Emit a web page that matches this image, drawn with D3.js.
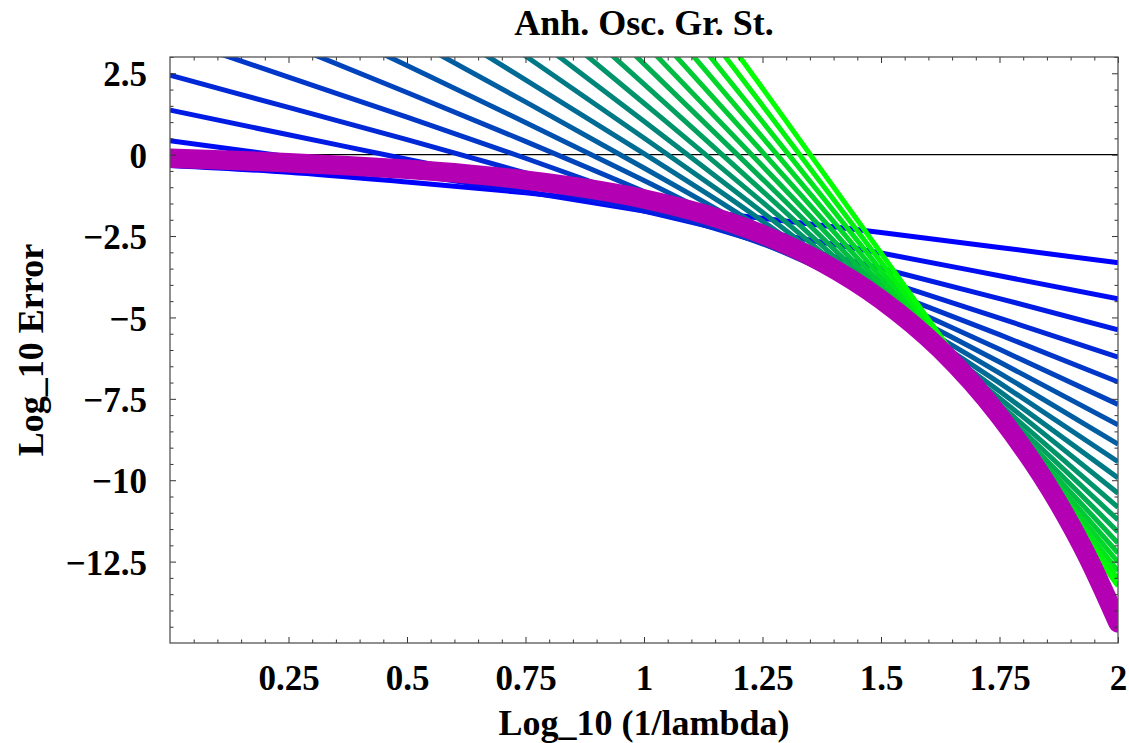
<!DOCTYPE html>
<html>
<head>
<meta charset="utf-8">
<script src="https://cdn.jsdelivr.net/npm/d3@7"></script>
<style>
  body { margin: 0; background: #fff; }
  svg { display: block; }
  text { font-family: "Liberation Serif", "Times New Roman", serif; font-weight: bold; }
</style>
</head>
<body>
<svg id="chart" width="1129" height="743"></svg>
<script>
// x = log10(1/lambda); sample grid shared by all truncation-order curves
const xGrid = [0, 0.25, 0.5, 0.75, 1, 1.25, 1.5, 1.75, 2];

// log10 relative error of the perturbation series truncated at order N = 1..20
const orderErrors = [
  [-0.33, -0.54, -0.84, -1.17, -1.55, -1.95, -2.39, -2.85, -3.32],
  [0.43, -0.06, -0.58, -1.14, -1.73, -2.36, -3.02, -3.72, -4.43],
  [1.37, 0.61, -0.14, -0.91, -1.73, -2.59, -3.49, -4.42, -5.38],
  [2.44, 1.45, 0.46, -0.56, -1.61, -2.71, -3.84, -5.02, -6.22],
  [3.62, 2.38, 1.15, -0.11, -1.41, -2.74, -4.12, -5.53, -6.98],
  [4.85, 3.39, 1.91, 0.41, -1.13, -2.71, -4.32, -5.98, -7.67],
  [6.18, 4.47, 2.74, 0.99, -0.79, -2.61, -4.47, -6.37, -8.30],
  [7.55, 5.60, 3.62, 1.62, -0.41, -2.47, -4.57, -6.71, -8.89],
  [8.98, 6.77, 4.55, 2.30, 0.03, -2.28, -4.62, -7.01, -9.43],
  [10.45, 8.00, 5.52, 3.03, 0.51, -2.04, -4.63, -7.27, -9.93],
  [11.96, 9.26, 6.54, 3.79, 1.03, -1.77, -4.61, -7.48, -10.40],
  [13.51, 10.56, 7.58, 4.60, 1.58, -1.46, -4.55, -7.67, -10.83],
  [15.09, 11.89, 8.67, 5.43, 2.17, -1.12, -4.45, -7.82, -11.22],
  [16.71, 13.25, 9.78, 6.30, 2.79, -0.75, -4.32, -7.94, -11.59],
  [18.35, 14.65, 10.93, 7.19, 3.44, -0.35, -4.17, -8.03, -11.93],
  [20.02, 16.07, 12.10, 8.12, 4.11, 0.08, -3.99, -8.09, -12.24],
  [21.72, 17.52, 13.30, 9.07, 4.81, 0.53, -3.78, -8.13, -12.52],
  [23.44, 18.99, 14.53, 10.04, 5.54, 1.01, -3.55, -8.15, -12.79],
  [25.19, 20.49, 15.77, 11.04, 6.29, 1.51, -3.30, -8.14, -13.03],
  [26.96, 22.01, 17.04, 12.06, 7.06, 2.04, -3.02, -8.11, -13.25]
];

// optimal-truncation error estimate (thick curve)
const optimalX = [0, 0.125, 0.25, 0.375, 0.5, 0.625, 0.75, 0.875, 1, 1.125, 1.25, 1.375, 1.5, 1.625, 1.75, 1.875, 1.9375, 2];
const optimalErr = [-0.11, -0.17, -0.25, -0.34, -0.45, -0.59, -0.78, -1.03, -1.36, -1.82, -2.45, -3.30, -4.45, -5.98, -8.03, -10.72, -12.40, -14.38];

const xTickValues = [0.25, 0.5, 0.75, 1, 1.25, 1.5, 1.75, 2];
const xTickLabels = ["0.25", "0.5", "0.75", "1", "1.25", "1.5", "1.75", "2"];
const yTickValues = [2.5, 0, -2.5, -5, -7.5, -10, -12.5];
const yTickLabels = ["2.5", "0", "\u22122.5", "\u22125", "\u22127.5", "\u221210", "\u221212.5"];

const plot = { left: 170, right: 1118, top: 57, bottom: 643 };
const svg = d3.select("#chart");

const x = d3.scaleLinear().domain([0, 2]).range([plot.left, plot.right]);
const y = d3.scaleLinear().domain([-15, 3]).range([plot.bottom, plot.top]);

svg.append("defs").append("clipPath").attr("id", "plot-clip")
  .append("rect")
  .attr("x", plot.left).attr("y", plot.top)
  .attr("width", plot.right - plot.left).attr("height", plot.bottom - plot.top);

const body = svg.append("g").attr("clip-path", "url(#plot-clip)");

// horizontal axis line at zero
body.append("line")
  .attr("x1", plot.left).attr("x2", plot.right)
  .attr("y1", y(0)).attr("y2", y(0))
  .attr("stroke", "#000").attr("stroke-width", 1.2);

const line = d3.line()
  .x(d => x(d[0]))
  .y(d => y(d[1]))
  .curve(d3.curveMonotoneX);

const orderColor = d3.interpolateRgb("#0000ff", "#00ff00");

orderErrors.forEach((vals, i) => {
  body.append("path")
    .datum(xGrid.map((xv, j) => [xv, vals[j]]))
    .attr("d", line)
    .attr("fill", "none")
    .attr("stroke", orderColor(i / (orderErrors.length - 1)))
    .attr("stroke-width", 5);
});

body.append("path")
  .datum(optimalX.map((xv, j) => [xv, optimalErr[j]]))
  .attr("d", line)
  .attr("fill", "none")
  .attr("stroke", "#b200b2")
  .attr("stroke-width", 19.5)
  .attr("stroke-linecap", "round")
  .attr("stroke-linejoin", "round");

// frame ticks (pointing inward)
const xMinor = d3.range(0, 2.0001, 0.05).map(v => +v.toFixed(2)).filter(v => Math.abs(v * 4 - Math.round(v * 4)) > 1e-6);
const yMinor = d3.range(-15, 3.0001, 0.5).filter(v => Math.abs(v / 2.5 - Math.round(v / 2.5)) > 1e-6);
const majorLen = 6, minorLen = 3.5;

function styleAxis(g) {
  g.select(".domain").remove();
  g.attr("color", "#333")
   .attr("font-family", "Liberation Serif, Times New Roman, serif")
   .attr("font-weight", "bold")
   .attr("font-size", 35);
  g.selectAll("text").attr("fill", "#000");
}

svg.append("g").attr("transform", `translate(0,${plot.bottom})`)
  .call(d3.axisBottom(x).tickValues(xTickValues).tickFormat((d, i) => xTickLabels[i]).tickSize(-majorLen).tickPadding(22))
  .call(styleAxis);
svg.append("g").attr("transform", `translate(0,${plot.bottom})`)
  .call(d3.axisBottom(x).tickValues(xMinor).tickFormat("").tickSize(-minorLen))
  .call(styleAxis);
svg.append("g").attr("transform", `translate(0,${plot.top})`)
  .call(d3.axisTop(x).tickValues(xTickValues).tickFormat("").tickSize(-majorLen))
  .call(styleAxis);
svg.append("g").attr("transform", `translate(0,${plot.top})`)
  .call(d3.axisTop(x).tickValues(xMinor).tickFormat("").tickSize(-minorLen))
  .call(styleAxis);

svg.append("g").attr("transform", `translate(${plot.left},0)`)
  .call(d3.axisLeft(y).tickValues(yTickValues).tickFormat((d, i) => yTickLabels[i]).tickSize(-majorLen).tickPadding(23))
  .call(styleAxis)
  .call(g => g.selectAll("text").attr("dy", "0.36em"));
svg.append("g").attr("transform", `translate(${plot.left},0)`)
  .call(d3.axisLeft(y).tickValues(yMinor).tickFormat("").tickSize(-minorLen))
  .call(styleAxis);
svg.append("g").attr("transform", `translate(${plot.right},0)`)
  .call(d3.axisRight(y).tickValues(yTickValues).tickFormat("").tickSize(-majorLen))
  .call(styleAxis);
svg.append("g").attr("transform", `translate(${plot.right},0)`)
  .call(d3.axisRight(y).tickValues(yMinor).tickFormat("").tickSize(-minorLen))
  .call(styleAxis);

// frame
svg.append("rect")
  .attr("x", plot.left).attr("y", plot.top)
  .attr("width", plot.right - plot.left).attr("height", plot.bottom - plot.top)
  .attr("fill", "none").attr("stroke", "#555").attr("stroke-width", 1.3);

// titles
svg.append("text")
  .attr("x", (plot.left + plot.right) / 2).attr("y", 35)
  .attr("text-anchor", "middle").attr("font-size", 36)
  .text("Anh. Osc. Gr. St.");

svg.append("text")
  .attr("x", (plot.left + plot.right) / 2).attr("y", 735)
  .attr("text-anchor", "middle").attr("font-size", 36)
  .text("Log_10 (1/lambda)");

svg.append("text")
  .attr("transform", `translate(43,${(plot.top + plot.bottom) / 2}) rotate(-90)`)
  .attr("text-anchor", "middle").attr("font-size", 36)
  .text("Log_10 Error");
</script>
</body>
</html>
